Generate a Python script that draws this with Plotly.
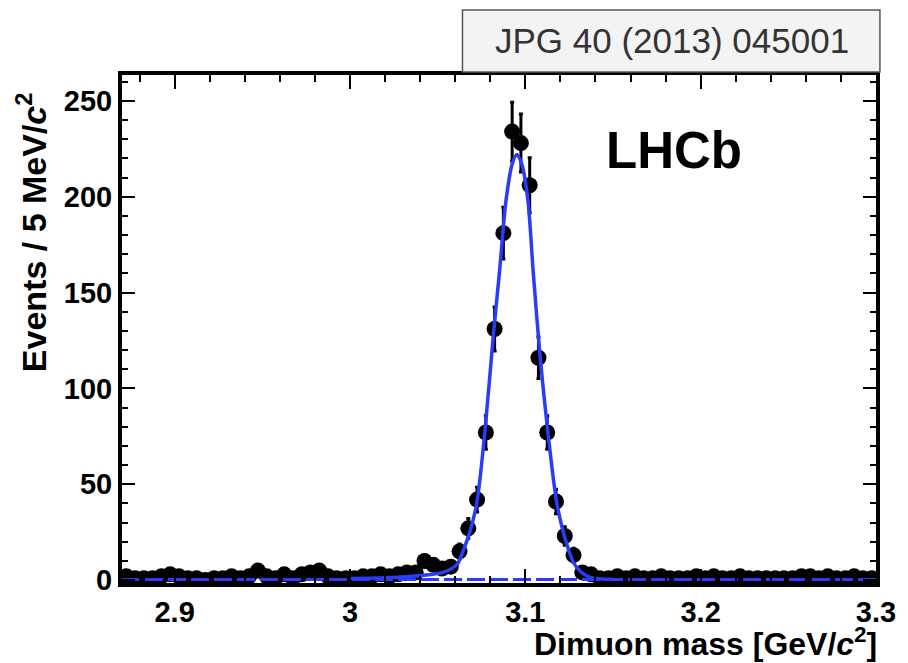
import numpy as np
import plotly.graph_objects as go

# ---- data ----
bin_centers = [round(2.8725 + 0.005 * i, 4) for i in range(86)]
counts = [2, 1, 1, 1, 2, 3, 2, 1, 1, 0,
          1, 1, 2, 1, 2, 5, 2, 1, 3, 1,
          3, 4, 5, 2, 1, 1, 1, 2, 2, 3,
          2, 3, 4, 4, 10, 8, 6, 7, 15, 27,
          42, 77, 131, 181, 234, 228, 206, 116, 77, 41,
          23, 13, 4, 3, 1, 1, 2, 1, 2, 1,
          1, 2, 1, 1, 1, 2, 1, 2, 1, 1,
          2, 1, 1, 1, 1, 1, 1, 2, 2, 1,
          2, 1, 1, 2, 1, 1]
count_err = np.sqrt(np.maximum(np.array(counts, dtype=float), 1.0))

fit_x = [3.000, 3.020, 3.035, 3.045, 3.0525, 3.058, 3.0616, 3.064, 3.068,
         3.0723, 3.0768, 3.082, 3.0853, 3.089, 3.0925, 3.0952, 3.098,
         3.1015, 3.1045, 3.1085, 3.113, 3.118, 3.1226, 3.1277, 3.1315,
         3.135, 3.140, 3.150]
fit_y = [0.8, 1.2, 2.0, 2.8, 3.9, 6.0, 8.8, 14.0, 24.0,
         40.0, 76.0, 130.0, 161.0, 198.0, 217.0, 222.0, 217.0,
         198.0, 161.0, 116.0, 76.0, 40.0, 22.0, 8.8, 4.5,
         2.3, 0.8, 0.4]

bkg_x = [2.87, 3.30]
bkg_y = [0.3, 0.3]

x_range = [2.87, 3.30]
y_range = [-1.5, 263.5]
x_tickvals = [2.9, 3.0, 3.1, 3.2, 3.3]
x_ticktext = ["2.9", "3", "3.1", "3.2", "3.3"]
y_tickvals = [0, 50, 100, 150, 200, 250]

x_title = "<b>Dimuon mass [GeV/<i>c</i><sup>2</sup>]</b>"
y_title = "<b>Events / 5 MeV/<i>c</i><sup>2</sup></b>"
experiment_label = "<b>LHCb</b>"
ref_label = "JPG 40 (2013) 045001"

BLUE = "rgb(40,60,250)"
FONT = "Liberation Sans, Arial, sans-serif"

fig = go.Figure()

fig.add_trace(go.Scatter(
    x=bin_centers, y=counts, mode="markers",
    marker=dict(color="black", size=16),
    error_y=dict(type="data", array=count_err, color="black", thickness=3, width=2),
    showlegend=False, hoverinfo="x+y"))

fig.add_trace(go.Scatter(
    x=bkg_x, y=bkg_y, mode="lines",
    line=dict(color=BLUE, width=3, dash="18px,5px"),
    showlegend=False))

fig.add_trace(go.Scatter(
    x=fit_x, y=fit_y, mode="lines",
    line=dict(color=BLUE, width=3.5, shape="spline", smoothing=0.8),
    showlegend=False))

axis_common = dict(
    showline=True, linecolor="black", linewidth=4, mirror="ticks",
    ticks="inside", tickcolor="black", tickwidth=2,
    showgrid=False, zeroline=False,
    tickfont=dict(family=FONT, size=29, color="black", weight="bold"),
)

fig.update_xaxes(range=x_range, tickvals=x_tickvals, ticktext=x_ticktext,
                 ticklen=14,
                 minor=dict(dtick=0.02, tick0=2.9, ticklen=7, tickwidth=2,
                            ticks="inside", tickcolor="black", showgrid=False),
                 **axis_common)
fig.update_yaxes(range=y_range, tickvals=y_tickvals, ticklen=13,
                 minor=dict(dtick=10, tick0=0, ticklen=6, tickwidth=2,
                            ticks="inside", tickcolor="black", showgrid=False),
                 **axis_common)

L, R, T, B = 122, 22, 75, 80
W, H = 908, 663
pw, ph = W - L - R, H - T - B

def px_to_paper_x(px):
    return (px - L) / pw

def px_to_paper_y(py):
    return (H - B - py) / ph

fig.add_shape(type="rect", xref="paper", yref="paper",
              x0=px_to_paper_x(467), x1=px_to_paper_x(890),
              y0=px_to_paper_y(72), y1=px_to_paper_y(10),
              fillcolor="#f3f3f3", line=dict(color="#555555", width=1.5),
              layer="above")

fig.add_annotation(text=ref_label, xref="paper", yref="paper",
                   x=px_to_paper_x(679), y=px_to_paper_y(41),
                   xanchor="center", yanchor="middle", showarrow=False,
                   font=dict(family=FONT, size=35, color="#333333"))

fig.add_annotation(text=experiment_label, xref="paper", yref="paper",
                   x=px_to_paper_x(681), y=px_to_paper_y(150),
                   xanchor="center", yanchor="middle", showarrow=False,
                   font=dict(family=FONT, size=51, color="black"))

fig.add_annotation(text=x_title, xref="paper", yref="paper",
                   x=px_to_paper_x(889), y=px_to_paper_y(642),
                   xanchor="right", yanchor="middle", showarrow=False,
                   font=dict(family=FONT, size=32, color="black"))

fig.add_annotation(text=y_title, xref="paper", yref="paper",
                   x=px_to_paper_x(31), y=px_to_paper_y(90),
                   xanchor="center", yanchor="top", textangle=-90, showarrow=False,
                   font=dict(family=FONT, size=34, color="black"))

fig.update_layout(
    width=W, height=H,
    margin=dict(l=L, r=R, t=T, b=B),
    paper_bgcolor="white", plot_bgcolor="white",
    font=dict(family=FONT),
)

fig.write_html("out.html")
